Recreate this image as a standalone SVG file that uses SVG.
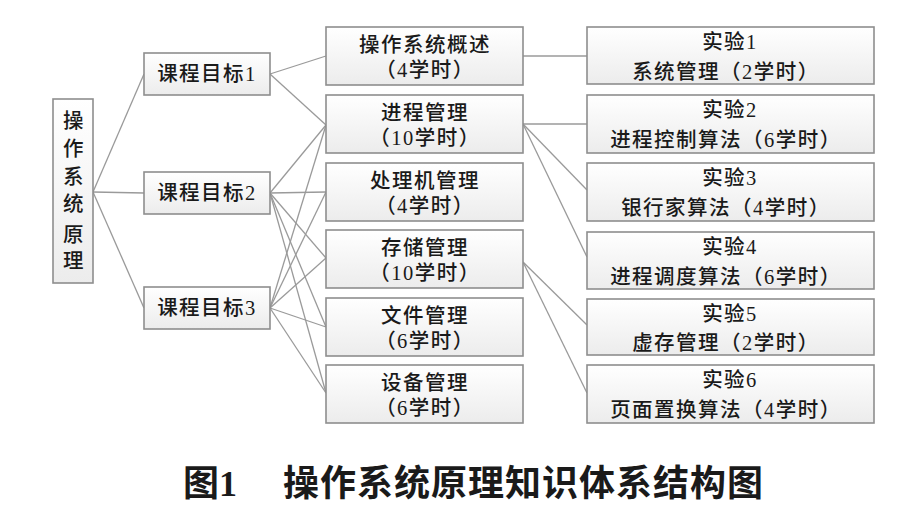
<svg xmlns="http://www.w3.org/2000/svg" width="924" height="513" viewBox="0 0 924 513">
<defs>
<linearGradient id="g" x1="0" y1="0" x2="0" y2="1">
<stop offset="0" stop-color="#ffffff"/>
<stop offset="1" stop-color="#ececec"/>
</linearGradient>
<style>
.box{fill:url(#g);stroke:#8e8e8e;stroke-width:1.6}
.t{font-family:"Liberation Serif","Noto Sans CJK SC",serif;font-size:20.5px;font-weight:500;fill:#1a1a1a;text-anchor:middle;letter-spacing:1.5px}
.c line{stroke:#9a9a9a;stroke-width:1.3}
.title{font-family:"Noto Sans CJK SC",sans-serif;font-size:36px;font-weight:bold;fill:#1a1a1a}
</style>
</defs>
<rect width="924" height="513" fill="#fff"/>
<g class="c" id="connectors">
<line x1="93" y1="192" x2="144" y2="74"/>
<line x1="93" y1="192" x2="144" y2="193"/>
<line x1="93" y1="192" x2="144" y2="308"/>
<line x1="270" y1="74" x2="326" y2="56"/>
<line x1="270" y1="74" x2="326" y2="125"/>
<line x1="270" y1="193" x2="326" y2="125"/>
<line x1="270" y1="193" x2="326" y2="192"/>
<line x1="270" y1="193" x2="326" y2="258"/>
<line x1="270" y1="193" x2="326" y2="327"/>
<line x1="270" y1="193" x2="326" y2="393"/>
<line x1="270" y1="308" x2="326" y2="125"/>
<line x1="270" y1="308" x2="326" y2="192"/>
<line x1="270" y1="308" x2="326" y2="258"/>
<line x1="270" y1="308" x2="326" y2="327"/>
<line x1="270" y1="308" x2="326" y2="393"/>
<line x1="523" y1="56" x2="587" y2="56"/>
<line x1="523" y1="124" x2="587" y2="124"/>
<line x1="523" y1="124" x2="587" y2="190"/>
<line x1="523" y1="124" x2="587" y2="257"/>
<line x1="523" y1="262" x2="587" y2="325"/>
<line x1="523" y1="262" x2="587" y2="393"/>
</g>
<g id="root">
<rect class="box" x="53" y="99" width="40" height="184"/>
<text class="t" x="74" y="128">操</text>
<text class="t" x="74" y="156">作</text>
<text class="t" x="74" y="184">系</text>
<text class="t" x="74" y="211">统</text>
<text class="t" x="74" y="242">原</text>
<text class="t" x="74" y="268">理</text>
</g>
<g id="goal1"><rect class="box" x="144" y="53" width="126" height="42"/><text class="t" x="207" y="81">课程目标1</text></g>
<g id="goal2"><rect class="box" x="144" y="172" width="126" height="42"/><text class="t" x="207" y="200">课程目标2</text></g>
<g id="goal3"><rect class="box" x="144" y="287" width="126" height="42"/><text class="t" x="207" y="315">课程目标3</text></g>
<g id="m1"><rect class="box" x="326" y="27" width="197" height="58"/><text class="t" x="425" y="52">操作系统概述</text><text class="t" x="425" y="77">（4学时）</text></g>
<g id="m2"><rect class="box" x="326" y="95" width="197" height="58"/><text class="t" x="425" y="120">进程管理</text><text class="t" x="425" y="145">（10学时）</text></g>
<g id="m3"><rect class="box" x="326" y="163" width="197" height="58"/><text class="t" x="425" y="188">处理机管理</text><text class="t" x="425" y="213">（4学时）</text></g>
<g id="m4"><rect class="box" x="326" y="230" width="197" height="58"/><text class="t" x="425" y="255">存储管理</text><text class="t" x="425" y="280">（10学时）</text></g>
<g id="m5"><rect class="box" x="326" y="298" width="197" height="58"/><text class="t" x="425" y="323">文件管理</text><text class="t" x="425" y="348">（6学时）</text></g>
<g id="m6"><rect class="box" x="326" y="365" width="197" height="58"/><text class="t" x="425" y="390">设备管理</text><text class="t" x="425" y="415">（6学时）</text></g>
<g id="e1"><rect class="box" x="587" y="27" width="287" height="57"/><text class="t" x="730" y="49">实验1</text><text class="t" x="726" y="79">系统管理（2学时）</text></g>
<g id="e2"><rect class="box" x="587" y="95" width="287" height="58"/><text class="t" x="730" y="117">实验2</text><text class="t" x="726" y="147">进程控制算法（6学时）</text></g>
<g id="e3"><rect class="box" x="587" y="163" width="287" height="58"/><text class="t" x="730" y="185">实验3</text><text class="t" x="726" y="215">银行家算法（4学时）</text></g>
<g id="e4"><rect class="box" x="587" y="232" width="287" height="57"/><text class="t" x="730" y="254">实验4</text><text class="t" x="726" y="284">进程调度算法（6学时）</text></g>
<g id="e5"><rect class="box" x="587" y="299" width="287" height="56"/><text class="t" x="730" y="321">实验5</text><text class="t" x="726" y="350">虚存管理（2学时）</text></g>
<g id="e6"><rect class="box" x="587" y="365" width="287" height="58"/><text class="t" x="730" y="387">实验6</text><text class="t" x="726" y="417">页面置换算法（4学时）</text></g>
<g id="caption">
<text class="title" x="183" y="496">图<tspan font-family="Liberation Serif,serif">1</tspan></text>
<text class="title" x="283" y="496" letter-spacing="1">操作系统原理知识体系结构图</text>
</g>
</svg>
